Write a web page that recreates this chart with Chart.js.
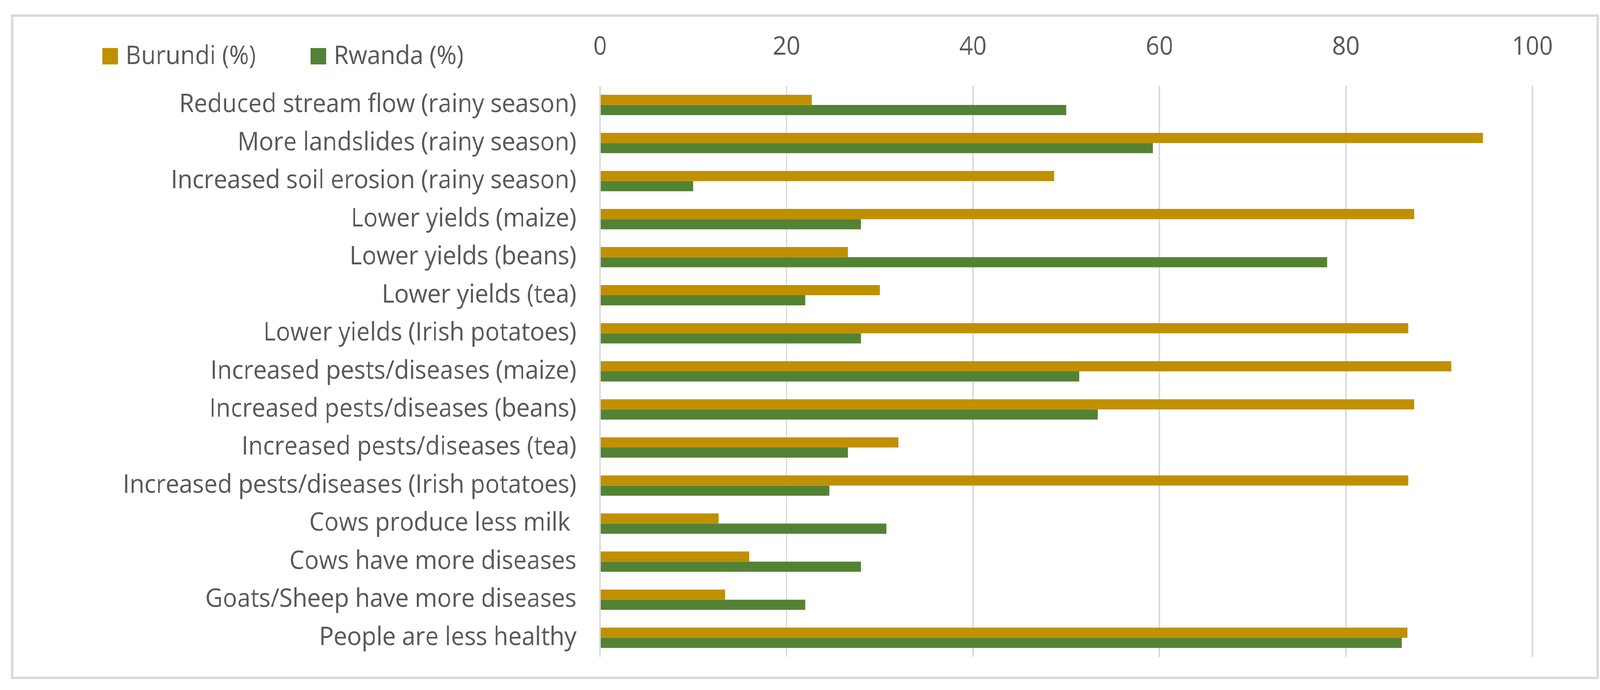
<!DOCTYPE html>
<html>
<head>
<meta charset="utf-8">
<script src="https://cdn.jsdelivr.net/npm/chart.js@4.4.1/dist/chart.umd.min.js"></script>
<style>
  html, body { margin: 0; padding: 0; background: #ffffff; overflow: hidden; }
  #stage { position: absolute; left: 0; top: 0; width: 4333px; height: 1767px; transform-origin: 0 0; }
  #frame { position: absolute; left: 30px; top: 37px; width: 4300px; height: 1702px; border: 6px solid #d9d9d9; box-sizing: border-box; }
  #c { position: absolute; left: 0; top: 0; }
</style>
</head>
<body>
<div id="stage">
  <div id="frame"></div>
  <canvas id="c" width="4333" height="1767"></canvas>
</div>
<script>
const categories = [
  "Reduced stream flow (rainy season)",
  "More landslides (rainy season)",
  "Increased soil erosion (rainy season)",
  "Lower yields (maize)",
  "Lower yields (beans)",
  "Lower yields (tea)",
  "Lower yields (Irish potatoes)",
  "Increased pests/diseases (maize)",
  "Increased pests/diseases (beans)",
  "Increased pests/diseases (tea)",
  "Increased pests/diseases (Irish potatoes)",
  "Cows produce less milk ",
  "Cows have more diseases",
  "Goats/Sheep have more diseases",
  "People are less healthy"
];
const seriesNames = ["Burundi (%)", "Rwanda (%)"];
const burundi = [22.7, 94.7, 48.7, 87.3, 26.6, 30.0, 86.7, 91.3, 87.3, 32.0, 86.7, 12.7, 16.0, 13.4, 86.6];
const rwanda  = [50.0, 59.3, 10.0, 28.0, 78.0, 22.0, 28.0, 51.4, 53.4, 26.6, 24.6, 30.7, 28.0, 22.0, 86.0];
const xTickValues = [0, 20, 40, 60, 80, 100];

// Fit the 4333x1767 design into the actual viewport.
const stage = document.getElementById("stage");
const sx = window.innerWidth / 4333;
const sy = window.innerHeight / 1767;
stage.style.transform = "scale(" + sx + "," + sy + ")";

const FONT = "'Open Sans', 'Noto Sans', sans-serif";
const FONT_SIZE = 65;
const TEXT_COLOR = "#595959";

const legendPlugin = {
  id: "customLegend",
  afterDraw(chart) {
    const ctx = chart.ctx;
    ctx.save();
    ctx.font = FONT_SIZE + "px " + FONT;
    ctx.textBaseline = "middle";
    ctx.textAlign = "left";
    const positions = [277, 841];
    const cy = 144;
    const sw = 42;
    chart.data.datasets.forEach((ds, i) => {
      const x = positions[i];
      ctx.fillStyle = ds.backgroundColor;
      ctx.fillRect(x, cy - sw / 2, sw, sw);
      ctx.fillStyle = TEXT_COLOR;
      ctx.fillText(ds.label, x + sw + 21, cy + 1);
    });
    ctx.restore();
  }
};

new Chart(document.getElementById("c"), {
  type: "bar",
  data: {
    labels: categories,
    datasets: [
      { label: seriesNames[0], data: burundi, backgroundColor: "#BF9000", borderWidth: 0 },
      { label: seriesNames[1], data: rwanda, backgroundColor: "#548235", borderWidth: 0 }
    ]
  },
  options: {
    indexAxis: "y",
    responsive: false,
    animation: false,
    devicePixelRatio: 1,
    layout: { padding: { left: 0, right: 183, top: 0, bottom: 85 } },
    datasets: { bar: { categoryPercentage: 0.534, barPercentage: 1.0 } },
    plugins: { legend: { display: false }, tooltip: { enabled: false } },
    scales: {
      x: {
        position: "top",
        min: 0,
        max: 100,
        afterBuildTicks(scale) { scale.ticks = xTickValues.map(v => ({ value: v })); },
        afterFit(scale) { scale.height = 220; },
        grid: { color: "#d9d9d9", lineWidth: 4, drawTicks: false },
        border: { display: false },
        ticks: { color: TEXT_COLOR, font: { family: FONT, size: FONT_SIZE }, padding: 60 }
      },
      y: {
        afterFit(scale) { scale.width = 1625; },
        grid: { display: false, drawTicks: true, tickLength: 44 },
        border: { display: false },
        ticks: { color: TEXT_COLOR, font: { family: FONT, size: FONT_SIZE }, padding: 20, autoSkip: false }
      }
    }
  },
  plugins: [legendPlugin]
});
</script>
</body>
</html>
